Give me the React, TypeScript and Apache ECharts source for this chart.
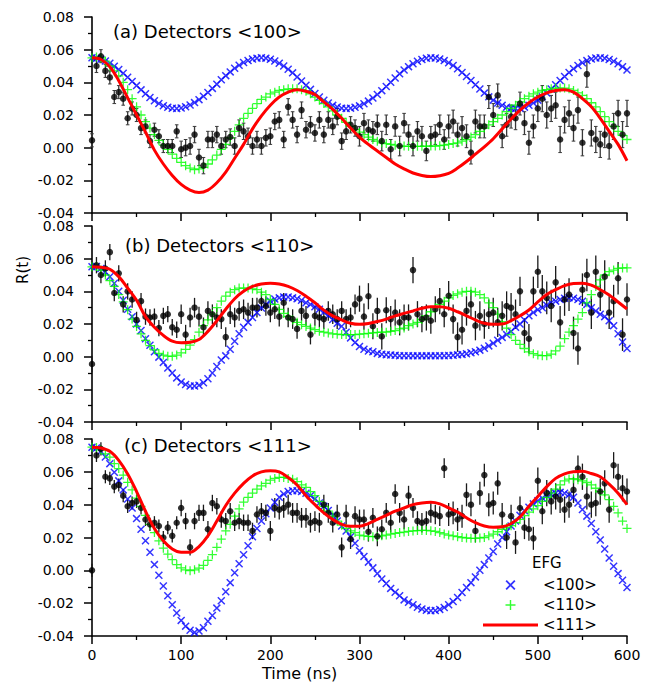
import React, { useEffect, useRef } from 'react';
import * as echarts from 'echarts';

// sample times (ns)
const T5 = Array.from({ length: 121 }, (_, i) => i * 5);
const T10 = Array.from({ length: 61 }, (_, i) => i * 10);

// ---------- Panel (a) Detectors <100> ----------
const BLUE_A = [
  0.0550, 0.0548, 0.0541, 0.0531, 0.0517, 0.0499, 0.0479, 0.0456, 0.0431, 0.0405,
  0.0380, 0.0354, 0.0330, 0.0307, 0.0287, 0.0270, 0.0257, 0.0247, 0.0241, 0.0240,
  0.0243, 0.0250, 0.0261, 0.0276, 0.0294, 0.0315, 0.0338, 0.0363, 0.0389, 0.0416,
  0.0441, 0.0464, 0.0486, 0.0505, 0.0521, 0.0534, 0.0543, 0.0548, 0.0550, 0.0548,
  0.0541, 0.0531, 0.0517, 0.0500, 0.0480, 0.0458, 0.0433, 0.0408, 0.0382, 0.0357,
  0.0332, 0.0310, 0.0290, 0.0273, 0.0259, 0.0249, 0.0242, 0.0240, 0.0242, 0.0247,
  0.0256, 0.0269, 0.0285, 0.0304, 0.0326, 0.0349, 0.0374, 0.0401, 0.0427, 0.0452,
  0.0475, 0.0496, 0.0514, 0.0529, 0.0540, 0.0547, 0.0550, 0.0549, 0.0543, 0.0533,
  0.0520, 0.0503, 0.0483, 0.0460, 0.0436, 0.0411, 0.0385, 0.0359, 0.0334, 0.0311,
  0.0291, 0.0273, 0.0259, 0.0248, 0.0242, 0.0240, 0.0242, 0.0248, 0.0259, 0.0273,
  0.0291, 0.0311, 0.0334, 0.0359, 0.0385, 0.0411, 0.0436, 0.0460, 0.0483, 0.0503,
  0.0520, 0.0533, 0.0543, 0.0549, 0.0550, 0.0547, 0.0540, 0.0529, 0.0514, 0.0496,
  0.0475,
];
const GREEN_A = [
  0.0550, 0.0555, 0.0550, 0.0530, 0.0500, 0.0470, 0.0440, 0.0400, 0.0355, 0.0300,
  0.0250, 0.0200, 0.0160, 0.0120, 0.0080, 0.0045, 0.0015, -0.0010, -0.0040, -0.0065,
  -0.0090, -0.0110, -0.0125, -0.0135, -0.0130, -0.0120, -0.0100, -0.0075, -0.0045, -0.0010,
  0.0020, 0.0060, 0.0100, 0.0140, 0.0180, 0.0210, 0.0240, 0.0270, 0.0295, 0.0310,
  0.0330, 0.0340, 0.0350, 0.0355, 0.0360, 0.0360, 0.0360, 0.0355, 0.0345, 0.0330,
  0.0310, 0.0290, 0.0270, 0.0250, 0.0225, 0.0200, 0.0180, 0.0155, 0.0130, 0.0110,
  0.0095, 0.0080, 0.0065, 0.0050, 0.0040, 0.0030, 0.0025, 0.0020, 0.0015, 0.0010,
  0.0010, 0.0008, 0.0008, 0.0008, 0.0008, 0.0010, 0.0010, 0.0010, 0.0012, 0.0015,
  0.0020, 0.0025, 0.0030, 0.0040, 0.0050, 0.0065, 0.0080, 0.0100, 0.0120, 0.0140,
  0.0160, 0.0180, 0.0200, 0.0220, 0.0240, 0.0260, 0.0280, 0.0300, 0.0315, 0.0330,
  0.0340, 0.0350, 0.0355, 0.0360, 0.0365, 0.0365, 0.0365, 0.0360, 0.0350, 0.0335,
  0.0320, 0.0300, 0.0275, 0.0250, 0.0220, 0.0190, 0.0160, 0.0130, 0.0100, 0.0075,
  0.0050,
];
const RED_A = [
  0.0550, 0.0540, 0.0495, 0.0410, 0.0305, 0.0200, 0.0095, -0.0015, -0.0100, -0.0170,
  -0.0225, -0.0260, -0.0275, -0.0260, -0.0215, -0.0150, -0.0065, 0.0020, 0.0115, 0.0195,
  0.0260, 0.0310, 0.0340, 0.0355, 0.0345, 0.0325, 0.0280, 0.0235, 0.0180, 0.0120,
  0.0065, 0.0020, -0.0020, -0.0060, -0.0100, -0.0130, -0.0155, -0.0170, -0.0177, -0.0172,
  -0.0158, -0.0125, -0.0085, -0.0040, 0.0005, 0.0055, 0.0115, 0.0175, 0.0230, 0.0275,
  0.0310, 0.0335, 0.0350, 0.0355, 0.0340, 0.0300, 0.0250, 0.0180, 0.0100, 0.0020,
  -0.0080,
];
const DATA_A = [
  0.0045, 0.0500, 0.0560, 0.0470, 0.0430, 0.0310, 0.0340, 0.0300, 0.0180, 0.0240,
  0.0200, 0.0120, 0.0130, 0.0040, 0.0110, 0.0070, 0.0010, 0.0010, 0.0010, 0.0100,
  -0.0010, 0.0000, 0.0010, 0.0080, -0.0060, -0.0110, 0.0050, 0.0050, 0.0080, 0.0010,
  0.0050, 0.0065, 0.0010, 0.0120, 0.0100, 0.0070, 0.0010, 0.0050, 0.0010, 0.0060,
  0.0070, 0.0160, 0.0170, 0.0050, 0.0250, 0.0170, 0.0080, 0.0230, 0.0110, 0.0140,
  0.0090, 0.0170, 0.0080, 0.0170, 0.0130, 0.0190, 0.0040, 0.0100, 0.0140, 0.0120,
  0.0070, 0.0150, 0.0110, 0.0100, 0.0140, 0.0040, 0.0140, -0.0010, 0.0130, 0.0010,
  0.0150, 0.0080, 0.0010, 0.0100, 0.0070, -0.0020, 0.0070, 0.0080, 0.0140, 0.0050,
  0.0130, 0.0160, 0.0080, 0.0120, 0.0070, -0.0030, 0.0160, 0.0130, 0.0130, 0.0310,
  0.0200, 0.0320, 0.0070, 0.0140, 0.0190, 0.0180, 0.0270, 0.0150, 0.0030, 0.0130,
  0.0240, 0.0300, 0.0200, 0.0240, 0.0260, 0.0050, 0.0170, 0.0210, 0.0120, 0.0230,
  0.0030, 0.0450, 0.0090, 0.0050, 0.0020, 0.0080, 0.0010, 0.0130, 0.0210, 0.0080,
  0.0210,
];
const ERR_A = [0.004, 0.005, 0.005, 0.006, 0.007, 0.008];

// ---------- Panel (b) Detectors <110> ----------
const BLUE_B = [
  0.0550, 0.0552, 0.0540, 0.0520, 0.0490, 0.0450, 0.0400, 0.0345, 0.0290, 0.0245,
  0.0200, 0.0160, 0.0110, 0.0070, 0.0030, -0.0003, -0.0035, -0.0070, -0.0100, -0.0130,
  -0.0155, -0.0170, -0.0180, -0.0180, -0.0175, -0.0160, -0.0135, -0.0100, -0.0060, -0.0020,
  0.0005, 0.0045, 0.0094, 0.0140, 0.0180, 0.0210, 0.0240, 0.0270, 0.0298, 0.0320,
  0.0340, 0.0353, 0.0360, 0.0365, 0.0365, 0.0360, 0.0355, 0.0345, 0.0330, 0.0320,
  0.0305, 0.0290, 0.0272, 0.0250, 0.0228, 0.0205, 0.0186, 0.0150, 0.0115, 0.0086,
  0.0062, 0.0045, 0.0035, 0.0030, 0.0020, 0.0015, 0.0012, 0.0010, 0.0008, 0.0006,
  0.0006, 0.0006, 0.0005, 0.0005, 0.0005, 0.0005, 0.0005, 0.0005, 0.0006, 0.0006,
  0.0007, 0.0009, 0.0011, 0.0014, 0.0018, 0.0024, 0.0030, 0.0040, 0.0052, 0.0066,
  0.0082, 0.0100, 0.0118, 0.0135, 0.0155, 0.0180, 0.0200, 0.0225, 0.0250, 0.0270,
  0.0288, 0.0300, 0.0315, 0.0330, 0.0340, 0.0350, 0.0358, 0.0360, 0.0358, 0.0350,
  0.0340, 0.0320, 0.0300, 0.0280, 0.0260, 0.0245, 0.0220, 0.0190, 0.0140, 0.0090,
  0.0050,
];
const GREEN_B = [
  0.0550, 0.0552, 0.0530, 0.0500, 0.0465, 0.0430, 0.0380, 0.0335, 0.0288, 0.0230,
  0.0185, 0.0140, 0.0100, 0.0068, 0.0042, 0.0020, 0.0010, 0.0003, 0.0002, 0.0010,
  0.0023, 0.0045, 0.0070, 0.0105, 0.0150, 0.0190, 0.0225, 0.0260, 0.0300, 0.0340,
  0.0370, 0.0395, 0.0410, 0.0420, 0.0420, 0.0420, 0.0415, 0.0410, 0.0395, 0.0380,
  0.0350, 0.0320, 0.0290, 0.0265, 0.0247, 0.0225, 0.0210, 0.0196, 0.0185, 0.0175,
  0.0165, 0.0155, 0.0150, 0.0145, 0.0140, 0.0138, 0.0135, 0.0135, 0.0135, 0.0135,
  0.0138, 0.0140, 0.0143, 0.0145, 0.0148, 0.0150, 0.0150, 0.0155, 0.0160, 0.0170,
  0.0175, 0.0190, 0.0200, 0.0210, 0.0227, 0.0250, 0.0275, 0.0300, 0.0320, 0.0340,
  0.0360, 0.0375, 0.0385, 0.0395, 0.0400, 0.0400, 0.0395, 0.0380, 0.0360, 0.0330,
  0.0300, 0.0260, 0.0215, 0.0175, 0.0135, 0.0100, 0.0075, 0.0050, 0.0030, 0.0018,
  0.0010, 0.0006, 0.0006, 0.0015, 0.0035, 0.0065, 0.0110, 0.0150, 0.0190, 0.0230,
  0.0270, 0.0330, 0.0380, 0.0430, 0.0470, 0.0500, 0.0520, 0.0530, 0.0540, 0.0543,
  0.0543,
];
const RED_B = [
  0.0550, 0.0548, 0.0535, 0.0490, 0.0420, 0.0345, 0.0245, 0.0180, 0.0130, 0.0095,
  0.0085, 0.0088, 0.0105, 0.0155, 0.0220, 0.0290, 0.0355, 0.0400, 0.0430, 0.0445,
  0.0450, 0.0445, 0.0430, 0.0405, 0.0370, 0.0330, 0.0285, 0.0250, 0.0225, 0.0205,
  0.0198, 0.0203, 0.0215, 0.0230, 0.0250, 0.0265, 0.0280, 0.0296, 0.0305, 0.0305,
  0.0296, 0.0275, 0.0250, 0.0225, 0.0205, 0.0198, 0.0200, 0.0220, 0.0250, 0.0286,
  0.0335, 0.0380, 0.0410, 0.0435, 0.0448, 0.0450, 0.0438, 0.0410, 0.0378, 0.0335,
  0.0292,
];
const DATA_B = [
  -0.0045, 0.0560, 0.0500, 0.0540, 0.0640, 0.0390, 0.0510, 0.0320, 0.0400, 0.0350,
  0.0225, 0.0340, 0.0245, 0.0240, 0.0245, 0.0175, 0.0250, 0.0260, 0.0180, 0.0165,
  0.0260, 0.0135, 0.0240, 0.0300, 0.0245, 0.0180, 0.0280, 0.0260, 0.0240, 0.0230,
  0.0120, 0.0260, 0.0240, 0.0280, 0.0290, 0.0270, 0.0300, 0.0300, 0.0340, 0.0310,
  0.0270, 0.0290, 0.0245, 0.0330, 0.0240, 0.0230, 0.0170, 0.0280, 0.0250, 0.0135,
  0.0250, 0.0240, 0.0230, 0.0280, 0.0260, 0.0230, 0.0280, 0.0230, 0.0240, 0.0320,
  0.0355, 0.0245, 0.0370, 0.0186, 0.0280, 0.0124, 0.0284, 0.0230, 0.0270, 0.0210,
  0.0240, 0.0240, 0.0530, 0.0260, 0.0230, 0.0240, 0.0220, 0.0290, 0.0340, 0.0260,
  0.0373, 0.0230, 0.0120, 0.0165, 0.0280, 0.0320, 0.0190, 0.0250, 0.0200, 0.0260,
  0.0270, 0.0210, 0.0250, 0.0310, 0.0300, 0.0260, 0.0400, 0.0145, 0.0110, 0.0400,
  0.0520, 0.0400, 0.0360, 0.0310, 0.0455, 0.0210, 0.0350, 0.0380, 0.0145, 0.0050,
  0.0410, 0.0500, 0.0270, 0.0520, 0.0380, 0.0490, 0.0270, 0.0340, 0.0480, 0.0135,
  0.0350,
];
const ERR_B = [0.005, 0.006, 0.006, 0.008, 0.009, 0.010];

// ---------- Panel (c) Detectors <111> ----------
const BLUE_C = [
  0.0750, 0.0745, 0.0725, 0.0690, 0.0650, 0.0597, 0.0545, 0.0490, 0.0435, 0.0380,
  0.0315, 0.0250, 0.0180, 0.0110, 0.0035, -0.0030, -0.0095, -0.0155, -0.0210, -0.0260,
  -0.0305, -0.0340, -0.0365, -0.0378, -0.0370, -0.0350, -0.0310, -0.0275, -0.0230, -0.0185,
  -0.0130, -0.0075, -0.0015, 0.0040, 0.0095, 0.0150, 0.0205, 0.0255, 0.0300, 0.0345,
  0.0380, 0.0415, 0.0445, 0.0465, 0.0480, 0.0485, 0.0485, 0.0480, 0.0470, 0.0455,
  0.0435, 0.0410, 0.0390, 0.0365, 0.0335, 0.0300, 0.0270, 0.0240, 0.0205, 0.0165,
  0.0120, 0.0085, 0.0050, 0.0015, -0.0020, -0.0053, -0.0080, -0.0110, -0.0134, -0.0155,
  -0.0180, -0.0195, -0.0210, -0.0225, -0.0236, -0.0243, -0.0246, -0.0245, -0.0238, -0.0226,
  -0.0210, -0.0190, -0.0165, -0.0135, -0.0105, -0.0075, -0.0040, 0.0000, 0.0035, 0.0075,
  0.0115, 0.0160, 0.0200, 0.0235, 0.0270, 0.0300, 0.0335, 0.0363, 0.0385, 0.0405,
  0.0424, 0.0440, 0.0455, 0.0465, 0.0470, 0.0475, 0.0470, 0.0460, 0.0445, 0.0410,
  0.0370, 0.0330, 0.0285, 0.0235, 0.0185, 0.0130, 0.0075, 0.0025, -0.0020, -0.0060,
  -0.0105,
];
const GREEN_C = [
  0.0750, 0.0748, 0.0735, 0.0710, 0.0690, 0.0650, 0.0620, 0.0580, 0.0536, 0.0490,
  0.0440, 0.0390, 0.0335, 0.0280, 0.0230, 0.0180, 0.0135, 0.0099, 0.0065, 0.0035,
  0.0015, 0.0003, -0.0002, 0.0003, 0.0013, 0.0030, 0.0060, 0.0095, 0.0140, 0.0190,
  0.0240, 0.0280, 0.0330, 0.0375, 0.0415, 0.0445, 0.0470, 0.0495, 0.0515, 0.0530,
  0.0550, 0.0560, 0.0566, 0.0566, 0.0560, 0.0555, 0.0540, 0.0520, 0.0505, 0.0480,
  0.0455, 0.0420, 0.0390, 0.0360, 0.0330, 0.0300, 0.0275, 0.0255, 0.0240, 0.0230,
  0.0215, 0.0210, 0.0207, 0.0205, 0.0205, 0.0210, 0.0215, 0.0220, 0.0225, 0.0230,
  0.0233, 0.0237, 0.0240, 0.0242, 0.0243, 0.0243, 0.0241, 0.0237, 0.0230, 0.0222,
  0.0215, 0.0210, 0.0205, 0.0200, 0.0197, 0.0195, 0.0195, 0.0197, 0.0200, 0.0210,
  0.0220, 0.0235, 0.0250, 0.0260, 0.0272, 0.0290, 0.0310, 0.0333, 0.0355, 0.0375,
  0.0394, 0.0420, 0.0445, 0.0470, 0.0495, 0.0520, 0.0545, 0.0556, 0.0558, 0.0552,
  0.0545, 0.0535, 0.0520, 0.0500, 0.0480, 0.0460, 0.0430, 0.0390, 0.0350, 0.0300,
  0.0255,
];
const RED_C = [
  0.0750, 0.0745, 0.0725, 0.0670, 0.0587, 0.0480, 0.0360, 0.0255, 0.0180, 0.0130,
  0.0110, 0.0110, 0.0145, 0.0210, 0.0300, 0.0395, 0.0470, 0.0530, 0.0575, 0.0600,
  0.0607, 0.0600, 0.0565, 0.0520, 0.0455, 0.0400, 0.0350, 0.0310, 0.0280, 0.0268,
  0.0268, 0.0285, 0.0310, 0.0335, 0.0360, 0.0380, 0.0400, 0.0410, 0.0414, 0.0405,
  0.0380, 0.0355, 0.0320, 0.0290, 0.0270, 0.0262, 0.0265, 0.0285, 0.0325, 0.0390,
  0.0450, 0.0510, 0.0560, 0.0588, 0.0600, 0.0603, 0.0590, 0.0570, 0.0525, 0.0470,
  0.0400,
];
const DATA_C = [
  0.0000, 0.0700, 0.0740, 0.0570, 0.0560, 0.0510, 0.0520, 0.0455, 0.0390, 0.0410,
  0.0420, 0.0380, 0.0310, 0.0280, 0.0290, 0.0270, 0.0200, 0.0260, 0.0210, 0.0290,
  0.0380, 0.0300, 0.0140, 0.0300, 0.0350, 0.0350, 0.0250, 0.0410, 0.0390, 0.0310,
  0.0300, 0.0360, 0.0290, 0.0300, 0.0290, 0.0290, 0.0240, 0.0340, 0.0360, 0.0350,
  0.0240, 0.0380, 0.0370, 0.0380, 0.0400, 0.0350, 0.0350, 0.0320, 0.0320, 0.0290,
  0.0300, 0.0290, 0.0400, 0.0350, 0.0290, 0.0340, 0.0140, 0.0340, 0.0190, 0.0330,
  0.0310, 0.0310, 0.0235, 0.0320, 0.0207, 0.0250, 0.0350, 0.0290, 0.0465, 0.0350,
  0.0310, 0.0455, 0.0380, 0.0300, 0.0290, 0.0300, 0.0350, 0.0340, 0.0330, 0.0622,
  0.0340, 0.0350, 0.0310, 0.0330, 0.0460, 0.0400, 0.0240, 0.0470, 0.0580, 0.0400,
  0.0410, 0.0530, 0.0340, 0.0200, 0.0330, 0.0170, 0.0380, 0.0260, 0.0250, 0.0195,
  0.0546, 0.0360, 0.0470, 0.0420, 0.0450, 0.0430, 0.0370, 0.0400, 0.0490, 0.0620,
  0.0570, 0.0450, 0.0400, 0.0410, 0.0480, 0.0530, 0.0370, 0.0640, 0.0570, 0.0500,
  0.0480,
];
const ERR_C = [0.004, 0.005, 0.006, 0.006, 0.007, 0.008];

const Y_TICKS = ['-0.04', '-0.02', '0.00', '0.02', '0.04', '0.06', '0.08'];
const X_TICKS = ['0', '100', '200', '300', '400', '500', '600'];
const TITLES = ['(a) Detectors <100>', '(b) Detectors <110>', '(c) Detectors <111>'];
const LEGEND_NAMES = ['<100>', '<110>', '<111>'];

const PANELS = [
  { blue: BLUE_A, green: GREEN_A, red: RED_A, data: DATA_A, err: ERR_A },
  { blue: BLUE_B, green: GREEN_B, red: RED_B, data: DATA_B, err: ERR_B },
  { blue: BLUE_C, green: GREEN_C, red: RED_C, data: DATA_C, err: ERR_C },
];

const X_SYM = 'path://M0,1.3L1.3,0L10,8.7L8.7,10ZM8.7,0L10,1.3L1.3,10L0,8.7Z';
const P_SYM = 'path://M4.3,0L5.7,0L5.7,4.3L10,4.3L10,5.7L5.7,5.7L5.7,10L4.3,10L4.3,5.7L0,5.7L0,4.3L4.3,4.3Z';
const LINE_ICON = 'path://M0,0L55,0L55,3.2L0,3.2Z';
const FONT = 'DejaVu Sans';

const GRID_POS = [
  { top: 17, height: 196 },
  { top: 226, height: 196 },
  { top: 439, height: 197 },
];
const TITLE_POS = [
  { x: 113, y: 31 },
  { x: 125, y: 245 },
  { x: 124, y: 445 },
];

function pair(ts: number[], vs: number[]) {
  return ts.map((t, i) => [t, vs[i]]);
}

export default function App() {
  const ref = useRef<HTMLDivElement>(null);

  useEffect(() => {
    if (!ref.current) return;
    const chart = echarts.init(ref.current, undefined, { renderer: 'svg' });

    const grid = GRID_POS.map((g) => ({ left: 92, width: 535, top: g.top, height: g.height }));

    const xAxis = GRID_POS.map((_, i) => ({
      gridIndex: i,
      type: 'value',
      min: 0,
      max: 600,
      interval: 100,
      axisLine: { show: true, onZero: false, lineStyle: { color: '#000', width: 1.6 } },
      axisTick: { show: true, inside: false, length: 8, lineStyle: { color: '#000', width: 1.5 } },
      minorTick: { show: true, splitNumber: 2, length: 4, lineStyle: { color: '#000', width: 1.3 } },
      splitLine: { show: false },
      minorSplitLine: { show: false },
      axisLabel: {
        show: i === 2,
        margin: 12,
        fontSize: 14,
        fontFamily: FONT,
        color: '#000',
        formatter: (v: number) => X_TICKS[Math.round(v / 100)] ?? String(v),
      },
    }));

    const yAxis = GRID_POS.map((_, i) => ({
      gridIndex: i,
      type: 'value',
      min: -0.04,
      max: 0.08,
      interval: 0.02,
      axisLine: { show: true, onZero: false, lineStyle: { color: '#000', width: 1.6 } },
      axisTick: { show: true, inside: false, length: 8, lineStyle: { color: '#000', width: 1.5 } },
      minorTick: { show: true, splitNumber: 2, length: 4, lineStyle: { color: '#000', width: 1.3 } },
      splitLine: { show: false },
      minorSplitLine: { show: false },
      axisLabel: {
        margin: 18,
        fontSize: 14,
        fontFamily: FONT,
        color: '#000',
        formatter: (v: number) => Y_TICKS[Math.round((v + 0.04) / 0.02)] ?? v.toFixed(2),
      },
    }));

    const series: any[] = [];
    PANELS.forEach((p, i) => {
      series.push({
        type: 'scatter',
        name: '<100>',
        xAxisIndex: i,
        yAxisIndex: i,
        data: pair(T5, p.blue),
        symbol: X_SYM,
        symbolSize: 8,
        itemStyle: { color: '#0000ff' },
        clip: false,
      });
      series.push({
        type: 'scatter',
        name: '<110>',
        xAxisIndex: i,
        yAxisIndex: i,
        data: pair(T5, p.green),
        symbol: P_SYM,
        symbolSize: 9,
        itemStyle: { color: '#00ff00' },
        clip: false,
      });
      series.push({
        type: 'line',
        name: '<111>',
        xAxisIndex: i,
        yAxisIndex: i,
        data: pair(T10, p.red),
        smooth: 0.35,
        showSymbol: false,
        symbol: 'none',
        lineStyle: { color: '#ff0000', width: 3 },
        itemStyle: { color: '#ff0000' },
      });
      const withCap = i === 0;
      series.push({
        type: 'custom',
        name: 'err' + i,
        xAxisIndex: i,
        yAxisIndex: i,
        data: T5.map((t, k) => [t, p.data[k], p.err[Math.min(5, Math.floor(t / 100))]]),
        encode: { x: 0, y: 1 },
        renderItem: (params: any, api: any) => {
          const x = api.value(0);
          const y = api.value(1);
          const e = api.value(2);
          const p1 = api.coord([x, y - e]);
          const p2 = api.coord([x, y + e]);
          const col = withCap ? '#3a3a3a' : '#1a1a1a';
          const children: any[] = [
            { type: 'line', shape: { x1: p1[0], y1: p1[1], x2: p2[0], y2: p2[1] }, style: { stroke: col, lineWidth: 1.3 } },
          ];
          if (withCap) {
            children.push({ type: 'line', shape: { x1: p1[0] - 1.8, y1: p1[1], x2: p1[0] + 1.8, y2: p1[1] }, style: { stroke: col, lineWidth: 1 } });
            children.push({ type: 'line', shape: { x1: p2[0] - 1.8, y1: p2[1], x2: p2[0] + 1.8, y2: p2[1] }, style: { stroke: col, lineWidth: 1 } });
          }
          return { type: 'group', children };
        },
      });
      series.push({
        type: 'scatter',
        name: 'data' + i,
        xAxisIndex: i,
        yAxisIndex: i,
        data: pair(T5, p.data),
        symbol: 'circle',
        symbolSize: 6.5,
        itemStyle: { color: '#000' },
      });
    });

    const graphic: any[] = TITLES.map((t, i) => ({
      type: 'text',
      x: TITLE_POS[i].x,
      y: TITLE_POS[i].y,
      style: { text: t, fill: '#000', fontSize: 18, fontFamily: FONT, align: 'left', verticalAlign: 'middle' },
    }));
    graphic.push({
      type: 'text',
      x: 23,
      y: 270,
      rotation: Math.PI / 2,
      style: { text: 'R(t)', fill: '#000', fontSize: 15, fontFamily: FONT, align: 'center', verticalAlign: 'middle' },
    });
    graphic.push({
      type: 'text',
      x: 262,
      y: 673,
      style: { text: 'Time (ns)', fill: '#000', fontSize: 16, fontFamily: FONT, align: 'left', verticalAlign: 'middle' },
    });
    graphic.push({
      type: 'text',
      x: 532,
      y: 563,
      style: { text: 'EFG', fill: '#000', fontSize: 15, fontFamily: FONT, align: 'left', verticalAlign: 'middle' },
    });

    chart.setOption({
      animation: false,
      backgroundColor: '#fff',
      grid,
      xAxis,
      yAxis,
      series,
      graphic,
      legend: {
        data: [LEGEND_NAMES[0], LEGEND_NAMES[1], { name: LEGEND_NAMES[2], icon: LINE_ICON }],
        orient: 'vertical',
        left: 483,
        top: 577,
        itemWidth: 55,
        itemHeight: 10,
        itemGap: 4,
        padding: 0,
        selectedMode: false,
        textStyle: { fontSize: 15, lineHeight: 16, fontFamily: FONT, color: '#000' },
      },
    });

    return () => chart.dispose();
  }, []);

  return <div ref={ref} style={{ position: 'absolute', left: 0, top: 0, width: 646, height: 682 }} />;
}
